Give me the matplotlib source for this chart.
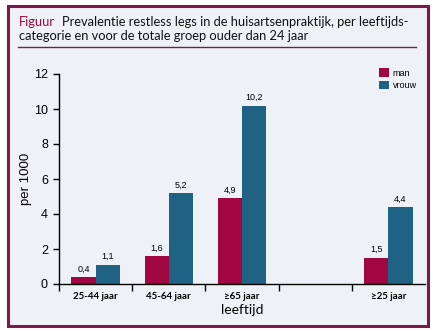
import matplotlib
matplotlib.use("Agg")
import matplotlib.pyplot as plt
import numpy as np
from matplotlib.patches import Rectangle
from matplotlib.lines import Line2D

# data
categories = ["25-44 jaar", "45-64 jaar", "≥65 jaar", "", "≥25 jaar"]
man = [0.4, 1.6, 4.9, None, 1.5]
vrouw = [1.1, 5.2, 10.2, None, 4.4]
man_labels = ["0,4", "1,6", "4,9", "", "1,5"]
vrouw_labels = ["1,1", "5,2", "10,2", "", "4,4"]

bg = "#eef2f6"
frame = "#7a1a4a"
c_man = "#a0063f"
c_vrouw = "#1f6283"

fig = plt.figure(figsize=(4.36, 3.31), dpi=100, facecolor="white")

# outer frame
fig.patches.append(Rectangle((8 / 436, 1 - 326 / 331), 420 / 436, 320 / 331,
                             transform=fig.transFigure, facecolor=bg,
                             edgecolor=frame, linewidth=2.2, zorder=-10))
# rule under the title
fig.lines.append(Line2D([18 / 436, 416 / 436], [1 - 47 / 331, 1 - 47 / 331],
                        transform=fig.transFigure, color=frame, linewidth=1))

fig.text(19 / 436, 1 - 22 / 331, "Figuur", color=c_man, fontsize=9.3,
         family="Lato", va="center")
fig.text(62 / 436, 1 - 22 / 331,
         "Prevalentie restless legs in de huisartsenpraktijk, per leeftijds-",
         color="#111111", fontsize=9.3, family="Lato", va="center")
fig.text(19 / 436, 1 - 36 / 331,
         "categorie en voor de totale groep ouder dan 24 jaar",
         color="#111111", fontsize=9.3, family="Lato", va="center")

ax = fig.add_axes([59 / 436, 1 - 284 / 331, 366 / 436, 210 / 331])
ax.set_facecolor("none")
ax.set_zorder(5)

x = np.arange(len(categories))
w = 0.33
for i in range(len(categories)):
    if man[i] is None:
        continue
    ax.bar(x[i] - w / 2, man[i], w, color=c_man, label="man" if i == 0 else None)
    ax.bar(x[i] + w / 2, vrouw[i], w, color=c_vrouw, label="vrouw" if i == 0 else None)
    ax.text(x[i] - w / 2, man[i] + 0.2, man_labels[i], ha="center", va="bottom",
            fontsize=6.5, family="Liberation Sans")
    ax.text(x[i] + w / 2, vrouw[i] + 0.2, vrouw_labels[i], ha="center", va="bottom",
            fontsize=6.5, family="Liberation Sans")

ax.set_xlim(-0.5, len(categories) - 0.5)
ax.set_ylim(0, 12)
ax.set_yticks(range(0, 13, 2))
ax.set_yticklabels([str(v) for v in range(0, 13, 2)], family="Liberation Sans", fontsize=9)
ax.set_xticks(x)
ax.set_xticklabels(categories, family="Lato", fontsize=7, fontweight="bold")
ax.set_xticks(np.arange(len(categories)) - 0.5, minor=True)
ax.tick_params(axis="x", which="major", length=0, pad=6)
ax.tick_params(axis="x", which="minor", length=5, width=1)
ax.tick_params(axis="y", length=4, width=1, pad=4)
for s in ["top", "right"]:
    ax.spines[s].set_visible(False)
ax.spines["left"].set_linewidth(1)
ax.spines["bottom"].set_linewidth(1)

ax.set_ylabel("per 1000", family="Liberation Sans", fontsize=9.5)
ax.yaxis.set_label_coords(-27 / 366, 0.5)
ax.set_xlabel("leeftijd", family="Lato", fontsize=10, labelpad=2)

ax.legend(loc="upper right", bbox_to_anchor=(1.0, 1.065), frameon=False,
          prop={"family": "Liberation Sans", "size": 6.5},
          handlelength=1.1, handleheight=1.1, handletextpad=0.4, labelspacing=0.3)

fig.savefig("out.png", dpi=100, facecolor="white")
